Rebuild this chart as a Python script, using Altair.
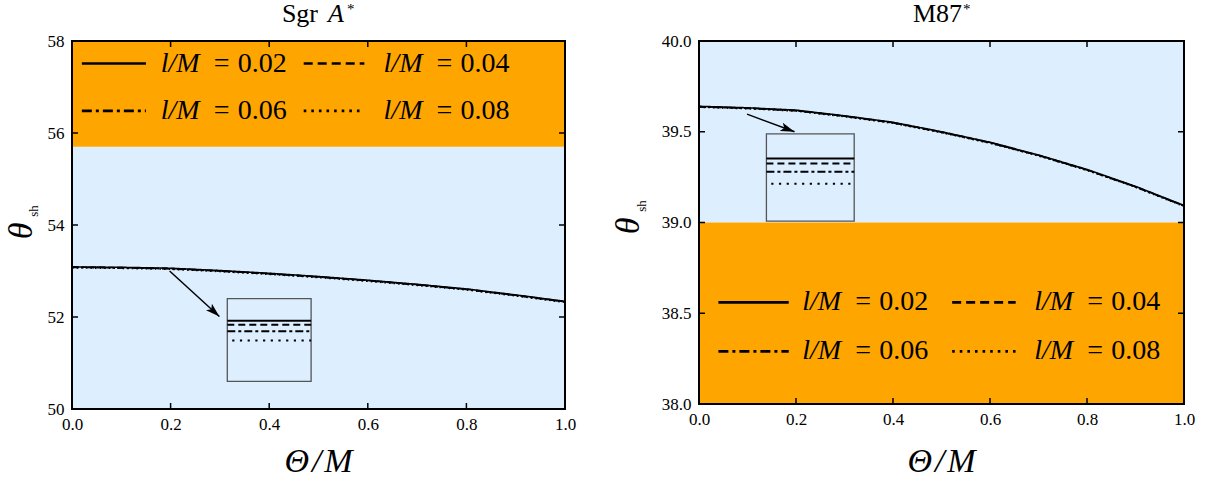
import math
import altair as alt
import pandas as pd

# ---------------- data ----------------
theta_M = [0.0, 0.1, 0.2, 0.3, 0.4, 0.5, 0.6, 0.7, 0.8, 0.9, 1.0]
l_values = ["0.02", "0.04", "0.06", "0.08"]

sgr_l002 = [53.090, 53.080, 53.060, 53.010, 52.950, 52.880, 52.800, 52.710, 52.610, 52.480, 52.340]
sgr_l004 = [53.084, 53.074, 53.054, 53.004, 52.944, 52.874, 52.794, 52.704, 52.604, 52.474, 52.334]
sgr_l006 = [53.078, 53.068, 53.048, 52.998, 52.938, 52.868, 52.788, 52.698, 52.598, 52.468, 52.328]
sgr_l008 = [53.068, 53.058, 53.038, 52.988, 52.928, 52.858, 52.778, 52.688, 52.588, 52.458, 52.318]

m87_l002 = [39.6400, 39.6320, 39.6190, 39.5880, 39.5520, 39.5000, 39.4420, 39.3720, 39.2920, 39.1990, 39.0940]
m87_l004 = [39.6385, 39.6305, 39.6175, 39.5865, 39.5505, 39.4985, 39.4405, 39.3705, 39.2905, 39.1975, 39.0925]
m87_l006 = [39.6370, 39.6290, 39.6160, 39.5850, 39.5490, 39.4970, 39.4390, 39.3690, 39.2890, 39.1960, 39.0910]
m87_l008 = [39.6350, 39.6270, 39.6140, 39.5830, 39.5470, 39.4950, 39.4370, 39.3670, 39.2870, 39.1940, 39.0890]

x_ticks = [0.0, 0.2, 0.4, 0.6, 0.8, 1.0]
sgr_y_ticks = [50, 52, 54, 56, 58]
m87_y_ticks = [38.0, 38.5, 39.0, 39.5, 40.0]

sgr_domain = [50, 58]
m87_domain = [38, 40]
sgr_bands = [(50, 55.7, "#ddeeff"), (55.7, 58, "#ffa500")]
m87_bands = [(39, 40, "#ddeeff"), (38, 39, "#ffa500")]

# legend layout (data coords): rows y, columns (line x0, line x1, text x)
sgr_leg_rows = [57.51, 56.48]
sgr_leg_cols = [(0.02, 0.15, 0.18), (0.47, 0.593, 0.632)]
m87_leg_rows = [38.56, 38.29]
m87_leg_cols = [(0.04, 0.185, 0.213), (0.522, 0.653, 0.691)]

# inset boxes: x0, x1, y0, y1 ; inset line levels ; arrow from/to
sgr_box = (0.315, 0.485, 50.60, 52.40)
sgr_inset_y = [51.92, 51.83, 51.69, 51.49]
sgr_arrow = (0.198, 53.00, 0.299, 52.01)
m87_box = (0.139, 0.320, 39.008, 39.488)
m87_inset_y = [39.352, 39.325, 39.279, 39.213]
m87_arrow = (0.099, 39.597, 0.197, 39.500)

SERIF = "Liberation Serif, Times New Roman, Times, serif"
curve_dash = [[1, 0], [6, 3], [7, 3, 2, 3], [1.6, 3]]
legend_dash = [[1, 0], [9, 5], [10, 4, 3, 4], [2.6, 5]]
inset_dash = [[1, 0], [7, 4], [8, 3, 3, 3], [2.2, 5.5]]

one = pd.DataFrame({"k": [0]})


def txt(text, x, y, size, style="normal", align="left", angle=0, baseline="alphabetic"):
    kw = dict(text=text, font=SERIF, fontSize=size, fontStyle=style, align=align,
              baseline=baseline, color="black")
    if angle:
        kw["angle"] = angle
    return alt.Chart(one).mark_text(**kw).encode(x=alt.value(x), y=alt.value(y))


def panel(w, h, ydom, yticks, yfmt, bands, series, leg_rows, leg_cols, box, inset_y,
          arrow, title_parts, ylab, xlab_y):
    xs = alt.Scale(domain=[0, 1], nice=False, zero=False)
    ys = alt.Scale(domain=ydom, nice=False, zero=False)
    xax = alt.Axis(values=x_ticks, format=".1f", ticks=False, domain=False, grid=False,
                   labelFont=SERIF, labelFontSize=17, labelColor="black", labelPadding=7,
                   labelFlush=False, title="")
    yax = alt.Axis(values=yticks, format=yfmt, ticks=False, domain=False, grid=False,
                   labelFont=SERIF, labelFontSize=17, labelColor="black", labelPadding=8,
                   title="")

    def X(f):
        return alt.X(f, type="quantitative", scale=xs, axis=xax, title="")

    def Y(f):
        return alt.Y(f, type="quantitative", scale=ys, axis=yax, title="")

    layers = []
    bdf = pd.DataFrame({"y0": [b[0] for b in bands], "y1": [b[1] for b in bands],
                        "c": [b[2] for b in bands]})
    layers.append(alt.Chart(bdf).mark_rect().encode(
        x=alt.value(0), x2=alt.value(w), y=Y("y0"), y2=alt.Y2("y1"),
        fill=alt.Fill("c:N", scale=None)))

    # curves (dotted first, solid on top)
    for i in [3, 2, 1, 0]:
        df = pd.DataFrame({"x": theta_M, "y": series[i]})
        layers.append(alt.Chart(df).mark_line(color="black", strokeWidth=1.6,
                                              strokeDash=curve_dash[i]).encode(
            x=X("x"), y=Y("y")))

    # legend
    for i in range(4):
        r, c = divmod(i, 2)
        x0, x1, xt = leg_cols[c]
        yv = leg_rows[r]
        ldf = pd.DataFrame({"x": [x0], "x2": [x1], "y": [yv], "xt": [xt],
                            "n": [l_values[i]]})
        layers.append(alt.Chart(ldf).mark_rule(color="black", strokeWidth=2.6,
                                               strokeDash=legend_dash[i]).encode(
            x=X("x"), x2=alt.X2("x2"), y=Y("y")))
        base = alt.Chart(ldf)
        layers.append(base.mark_text(text="l/M", font=SERIF, fontSize=28, fontStyle="italic",
                                     align="left", baseline="middle", color="black").encode(
            x=X("xt"), y=Y("y")))
        layers.append(base.mark_text(text="=", font=SERIF, fontSize=28, dx=53,
                                     align="left", baseline="middle", color="black").encode(
            x=X("xt"), y=Y("y")))
        layers.append(base.mark_text(font=SERIF, fontSize=28, dx=77,
                                     align="left", baseline="middle", color="black").encode(
            x=X("xt"), y=Y("y"), text="n:N"))

    # inset box and lines
    bx = pd.DataFrame({"x": [box[0]], "x2": [box[1]], "y": [box[2]], "y2": [box[3]]})
    layers.append(alt.Chart(bx).mark_rect(fillOpacity=0, stroke="#555555", strokeWidth=1.3).encode(
        x=X("x"), x2=alt.X2("x2"), y=Y("y"), y2=alt.Y2("y2")))
    for i in range(4):
        x0 = box[0] + (0.01 if i == 3 else 0.0)
        idf = pd.DataFrame({"x": [x0], "x2": [box[1]], "y": [inset_y[i]]})
        layers.append(alt.Chart(idf).mark_rule(color="black", strokeWidth=2,
                                               strokeDash=inset_dash[i]).encode(
            x=X("x"), x2=alt.X2("x2"), y=Y("y")))

    # arrow
    adf = pd.DataFrame({"x": [arrow[0]], "y": [arrow[1]], "x2": [arrow[2]], "y2": [arrow[3]]})
    layers.append(alt.Chart(adf).mark_rule(color="black", strokeWidth=1.5).encode(
        x=X("x"), y=Y("y"), x2=alt.X2("x2"), y2=alt.Y2("y2")))
    dxp = (arrow[2] - arrow[0]) * w
    dyp = (arrow[1] - arrow[3]) * h / (ydom[1] - ydom[0])
    ang = math.degrees(math.atan2(dxp, -dyp)) % 360
    layers.append(alt.Chart(adf).mark_point(
        shape="M0,0L0.62,2L0,1.55L-0.62,2Z", filled=True, color="black", opacity=1,
        size=200, angle=ang, strokeWidth=0).encode(x=X("x2"), y=Y("y2")))

    # inward ticks on all four sides
    xt = pd.DataFrame({"v": x_ticks})
    yt = pd.DataFrame({"v": yticks})
    tk = dict(color="black", strokeWidth=1.5)
    layers.append(alt.Chart(xt).mark_rule(**tk).encode(x=X("v"), y=alt.value(h), y2=alt.value(h - 6)))
    layers.append(alt.Chart(xt).mark_rule(**tk).encode(x=X("v"), y=alt.value(0), y2=alt.value(6)))
    layers.append(alt.Chart(yt).mark_rule(**tk).encode(y=Y("v"), x=alt.value(0), x2=alt.value(6)))
    layers.append(alt.Chart(yt).mark_rule(**tk).encode(y=Y("v"), x=alt.value(w), x2=alt.value(w - 6)))

    # frame
    layers.append(alt.Chart(one).mark_rect(fillOpacity=0, stroke="black", strokeWidth=2).encode(
        x=alt.value(0), x2=alt.value(w), y=alt.value(0), y2=alt.value(h)))

    # titles / axis titles
    for (t, x, y, s, st, al) in title_parts:
        layers.append(txt(t, x, y, s, st, align=al))
    (tx, ty, sx, sy) = ylab
    layers.append(txt("θ", tx, ty, 34, "italic", align="center", angle=270, baseline="middle"))
    layers.append(txt("sh", sx, sy, 13, "normal", align="center", angle=270, baseline="middle"))
    layers.append(txt("Θ\u200a/\u200aM", w / 2, xlab_y, 34, "italic", align="center"))

    return alt.layer(*layers).properties(width=w, height=h)


W1, H1 = 493, 368
W2, H2 = 485, 363

left = panel(W1, H1, sgr_domain, sgr_y_ticks, "d", sgr_bands,
             [sgr_l002, sgr_l004, sgr_l006, sgr_l008], sgr_leg_rows, sgr_leg_cols,
             sgr_box, sgr_inset_y, sgr_arrow,
             [("Sgr", 246, -19, 26, "normal", "right"), ("A", 256, -19, 26, "italic", "left"),
              ("*", 275, -27, 15, "normal", "left")],
             (-50, 190, -38, 170), H1 + 63)

right = panel(W2, H2, m87_domain, m87_y_ticks, ".1f", m87_bands,
              [m87_l002, m87_l004, m87_l006, m87_l008], m87_leg_rows, m87_leg_cols,
              m87_box, m87_inset_y, m87_arrow,
              [("M87", 263, -19, 26, "normal", "right"), ("*", 264, -27, 15, "normal", "left")],
              (-70, 185, -57, 165), H2 + 68)

chart = alt.hconcat(left, right, spacing=34).properties(
    padding={"left": 4, "top": 0, "right": 5, "bottom": 0},
    background="white",
).configure_view(stroke="transparent")

chart.save("out.html", embed_options={"renderer": "svg", "actions": False})
